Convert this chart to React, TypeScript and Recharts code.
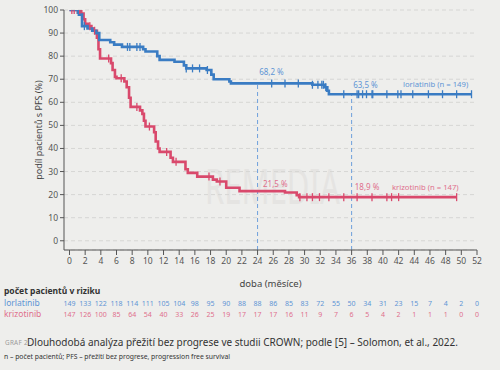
import React from 'react'
import {
  LineChart,
  Line,
  XAxis,
  YAxis,
  CartesianGrid,
  ReferenceLine,
  ReferenceDot,
} from 'recharts'

const monthTicks = [0, 2, 4, 6, 8, 10, 12, 14, 16, 18, 20, 22, 24, 26, 28, 30, 32, 34, 36, 38, 40, 42, 44, 46, 48, 50, 52]
const pctTicks = [0, 10, 20, 30, 40, 50, 60, 70, 80, 90, 100]

// [month, % PFS] at each step of the curve
const lorlatinibSteps: [number, number][] = [
  [0, 100], [1.2, 98], [1.6, 93], [2.3, 92], [2.9, 91], [3.4, 90], [3.8, 87],
  [5.2, 86], [5.7, 85], [6.7, 84], [9.4, 83], [9.7, 82], [11.2, 80], [11.5, 78.4],
  [13.4, 77.6], [14.6, 76], [14.9, 74.7], [17.5, 74], [18.1, 72], [18.4, 70],
  [20.4, 69], [20.6, 68.2], [31.0, 67.6], [32.6, 66.5], [32.9, 65], [33.1, 63.5],
]
const lorlatinibCensored = [
  1.0, 1.9, 7.4, 7.7, 8.6, 9.0, 14.9, 15.7, 16.6, 17.6, 25.8, 27.5, 29.2, 31.0,
  31.7, 32.2, 32.4, 32.7, 35.0, 36.7, 36.9, 37.4, 37.9, 38.6, 38.7, 40.5, 41.9,
  42.3, 43.8, 45.8, 47.6, 49.4, 51.3,
]

const krizotinibSteps: [number, number][] = [
  [0, 100], [1.5, 98.5], [1.8, 96], [2.0, 94], [2.4, 93], [2.8, 92], [3.1, 91],
  [3.5, 88], [3.7, 83], [3.9, 79], [5.3, 77], [5.5, 74], [5.8, 71], [6.0, 70.4],
  [7.0, 69], [7.3, 66.5], [7.6, 62], [7.8, 58], [9.0, 56.5], [9.3, 55], [9.5, 52],
  [9.7, 49.5], [10.8, 47], [11.0, 43], [11.3, 40], [11.5, 38.5], [12.9, 36],
  [13.2, 34.2], [14.8, 31], [15.1, 29.4], [16.3, 27.8], [18.3, 26.5], [18.8, 25.7],
  [20.0, 23], [21.7, 21.5], [27.5, 20.9], [29.0, 19.8], [29.3, 18.9],
]
const krizotinibCensored = [
  0.3, 0.6, 1.0, 1.3, 2.6, 3.2, 5.0, 6.6, 8.6, 10.2, 12.4, 13.6, 17.8, 19.2,
  29.4, 30.3, 31.0, 31.9, 33.1, 35.0, 36.7, 38.6, 40.5, 41.1, 42.0, 49.4,
]

const lorlatinibAtRisk = [149, 133, 122, 118, 114, 111, 105, 104, 98, 95, 90, 88, 88, 86, 85, 83, 72, 55, 50, 34, 31, 23, 15, 7, 4, 2, 0]
const krizotinibAtRisk = [147, 126, 100, 85, 64, 54, 40, 33, 26, 25, 19, 17, 17, 17, 16, 11, 9, 7, 6, 5, 4, 2, 1, 1, 1, 0, 0]

const BLUE = '#3a7cc3'
const RED = '#d9496c'
const BLUE_TXT = '#5f95d5'
const RED_TXT = '#e0708c'
const GREY = '#555'
const FONT = '"Noto Sans", sans-serif'

function buildCurve(steps: [number, number][], censored: number[]) {
  const pts = steps.map(([t, s]) => ({ t, s, c: false }))
  censored.forEach((ct) => {
    let s = steps[0][1]
    steps.forEach(([t, v]) => {
      if (t <= ct) s = v
    })
    pts.push({ t: ct, s, c: true })
  })
  return pts.sort((a, b) => a.t - b.t)
}

const lorData = buildCurve(lorlatinibSteps, lorlatinibCensored)
const krizData = buildCurve(krizotinibSteps, krizotinibCensored)

const censorDot = (color: string) => (props: any) => {
  const { cx, cy, payload, index } = props
  if (!payload || !payload.c) return <g key={`n-${index}`} />
  return (
    <line key={`c-${index}`} x1={cx} x2={cx} y1={cy - 4} y2={cy + 4} stroke={color} strokeWidth={1.3} />
  )
}

// month label plus the two "at risk" rows underneath it
const MonthTick = (props: any) => {
  const { x, y, payload } = props
  const i = monthTicks.indexOf(payload.value)
  return (
    <g fontFamily={FONT}>
      <text x={x} y={y} dy="0.71em" textAnchor="middle" fill={GREY} fontSize={8.5}>{payload.value}</text>
      <text x={x} y={y + 47.5} textAnchor="middle" fill={BLUE_TXT} fontSize={7}>{lorlatinibAtRisk[i]}</text>
      <text x={x} y={y + 58.5} textAnchor="middle" fill={RED_TXT} fontSize={7}>{krizotinibAtRisk[i]}</text>
    </g>
  )
}

const note = (top: number, left: number, size: number, color: string, extra: React.CSSProperties = {}) => ({
  position: 'absolute' as const,
  top: top - size / 2,
  left,
  fontSize: size,
  lineHeight: `${size}px`,
  color,
  whiteSpace: 'nowrap' as const,
  ...extra,
})

export default function App() {
  return (
    <div
      style={{
        position: 'absolute',
        left: 0,
        top: 0,
        width: 500,
        height: 370,
        background: '#eeeeec',
        fontFamily: FONT,
        overflow: 'hidden',
      }}
    >
      <div
        style={{
          position: 'absolute',
          left: 205,
          top: 160,
          fontSize: 50,
          lineHeight: '50px',
          color: '#e5e4e2',
          transform: 'scaleX(0.62)',
          transformOrigin: 'left top',
        }}
      >
        REMEDIA
      </div>
      <LineChart width={500} height={325} margin={{ top: 10, right: 23, left: 0, bottom: 37 }} style={{ fontFamily: FONT }}>
        <CartesianGrid vertical={false} strokeDasharray="4 3" stroke="#d6d6d4" />
        <XAxis
          dataKey="t"
          type="number"
          domain={[-0.7, 52]}
          allowDataOverflow
          ticks={monthTicks}
          interval={0}
          tickSize={5}
          tickMargin={3}
          height={38}
          stroke={GREY}
          tick={<MonthTick />}
          label={{ value: 'doba (měsíce)', position: 'insideBottom', offset: 1, fill: '#444', fontSize: 9.5 }}
        />
        <YAxis
          type="number"
          domain={[-4, 100]}
          allowDataOverflow
          ticks={pctTicks}
          interval={0}
          width={64}
          tickSize={4}
          tickMargin={2}
          stroke={GREY}
          tick={{ fill: GREY, fontSize: 8.5 }}
          label={{
            value: 'podíl pacientů s PFS (%)',
            angle: -90,
            position: 'insideLeft',
            offset: 39,
            fill: '#444',
            fontSize: 9,
            style: { textAnchor: 'middle' },
          }}
        />
        <ReferenceLine segment={[{ x: 24, y: -4 }, { x: 24, y: 68.2 }]} stroke="#6fa0dc" strokeDasharray="4 3" strokeWidth={1} />
        <ReferenceLine segment={[{ x: 36, y: -4 }, { x: 36, y: 63.5 }]} stroke="#6fa0dc" strokeDasharray="4 3" strokeWidth={1} />
        <Line
          data={krizData}
          dataKey="s"
          type="stepAfter"
          stroke={RED}
          strokeWidth={2.6}
          dot={censorDot(RED)}
          activeDot={false}
          isAnimationActive={false}
        />
        <Line
          data={lorData}
          dataKey="s"
          type="stepAfter"
          stroke={BLUE}
          strokeWidth={2.6}
          dot={censorDot(BLUE)}
          activeDot={false}
          isAnimationActive={false}
        />
        <ReferenceDot x={24.2} y={73.1} r={0} fill="none" stroke="none" label={{ value: '68,2 %', position: 'right', offset: 0, fill: BLUE_TXT, fontSize: 8 }} />
        <ReferenceDot x={36.2} y={67.5} r={0} fill="none" stroke="none" label={{ value: '63,5 %', position: 'right', offset: 0, fill: BLUE_TXT, fontSize: 8 }} />
        <ReferenceDot x={42.55} y={67.9} r={0} fill="none" stroke="none" label={{ value: 'lorlatinib (n = 149)', position: 'right', offset: 0, fill: BLUE_TXT, fontSize: 7.7 }} />
        <ReferenceDot x={24.7} y={24.6} r={0} fill="none" stroke="none" label={{ value: '21,5 %', position: 'right', offset: 0, fill: RED_TXT, fontSize: 8 }} />
        <ReferenceDot x={36.4} y={23.3} r={0} fill="none" stroke="none" label={{ value: '18,9 %', position: 'right', offset: 0, fill: RED_TXT, fontSize: 8 }} />
        <ReferenceDot x={41.15} y={23.3} r={0} fill="none" stroke="none" label={{ value: 'krizotinib (n = 147)', position: 'right', offset: 0, fill: RED_TXT, fontSize: 7.7 }} />
      </LineChart>
      <div style={note(291.3, 4, 8.5, '#333', { fontWeight: 700 })}>počet pacientů v riziku</div>
      <div style={note(303, 4, 8.5, BLUE_TXT)}>lorlatinib</div>
      <div style={note(314.7, 4, 8.5, RED_TXT)}>krizotinib</div>
      <div style={note(343, 5, 6.3, '#9a9a9a', { letterSpacing: 0.3 })}>GRAF 2</div>
      <div style={note(342, 27, 10, '#333')}>
        Dlouhodobá analýza přežití bez progrese ve studii CROWN; podle [5] – Solomon, et al., 2022.
      </div>
      <div style={note(357, 4, 6.8, '#333')}>
        n – počet pacientů; PFS – přežití bez progrese, progression free survival
      </div>
    </div>
  )
}
